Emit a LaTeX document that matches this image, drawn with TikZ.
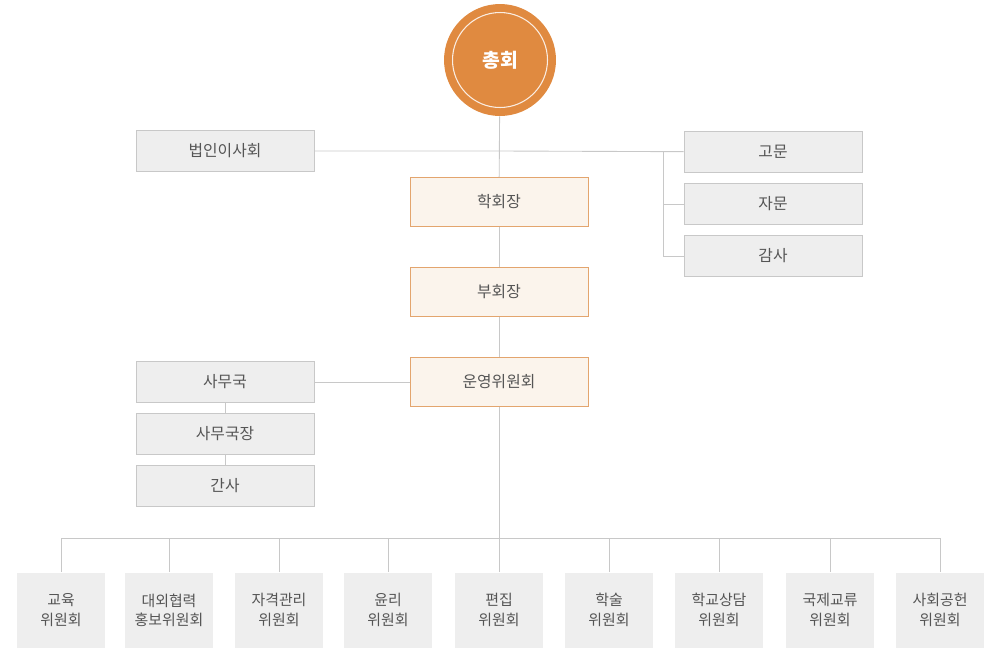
\documentclass[tikz,border=0pt]{standalone}
\usepackage{fontspec}
\newfontfamily\kr{Noto Sans CJK KR}
\definecolor{orgorange}{HTML}{E08A40}
\definecolor{orgline}{HTML}{E3A56E}
\definecolor{orgcream}{HTML}{FBF4EC}
\definecolor{orggray}{HTML}{EEEEEE}
\definecolor{orgedge}{HTML}{C8C8C8}
\definecolor{orgtext}{HTML}{555555}
\begin{document}
\begin{tikzpicture}[x=0.02cm,y=-0.02cm,font=\kr\fontsize{9}{11}\selectfont,text=orgtext]

      \tikzset{graybox/.style={draw=orgedge, fill=orggray, minimum width=3.56cm, minimum height=0.82cm, inner sep=0pt},
               headbox/.style={draw=orgline, fill=orgcream, minimum width=3.56cm, minimum height=0.98cm, inner sep=0pt},
               committee/.style={fill=orggray, minimum width=1.76cm, minimum height=1.5cm, inner sep=0pt, align=center, font=\kr\fontsize{8.5}{11}\selectfont},
               link/.style={draw=orgedge, line width=0.5pt}}
      \useasboundingbox (0,0) rectangle (1000,650);
%% Top
      	\node[circle, fill=orgorange, minimum size=2.24cm] (assembly) at (500,60) {};
      	\node[circle, draw=white!85!orgorange, line width=0.6pt, minimum size=1.9cm, text=white, font=\kr\bfseries\fontsize{11}{13}\selectfont] (assemblyin) at (500,60) {총회};
      	\node[graybox] (board) at (225,151) {법인이사회};
      	\node[graybox] (advisor) at (773,152) {고문};
      	\node[graybox] (consult) at (773,204) {자문};
      	\node[graybox] (audit) at (773,256) {감사};
      	\node[headbox] (president) at (499,202) {학회장};
      	\node[headbox] (vice) at (499,292) {부회장};
      	\node[headbox] (steering) at (499,382) {운영위원회};
%% Secretariat
      	\node[graybox] (office) at (225,382) {사무국};
      	\node[graybox] (chief) at (225,434) {사무국장};
      	\node[graybox] (clerk) at (225,486) {간사};
%% Committees
      	\node[committee] (c1) at (61,610) {교육\\위원회};
      	\node[committee] (c2) at (169,610) {대외협력\\홍보위원회};
      	\node[committee] (c3) at (279,610) {자격관리\\위원회};
      	\node[committee] (c4) at (388,610) {윤리\\위원회};
      	\node[committee] (c5) at (499,610) {편집\\위원회};
      	\node[committee] (c6) at (609,610) {학술\\위원회};
      	\node[committee] (c7) at (719,610) {학교상담\\위원회};
      	\node[committee] (c8) at (830,610) {국제교류\\위원회};
      	\node[committee] (c9) at (940,610) {사회공헌\\위원회};
%Edges
      	\coordinate (hub) at (499,151);
      	\coordinate (side) at (663,151);
      	\coordinate (split) at (499,538);
		\path[link] (assembly) -- (president);
		\path[link] (president) -- (vice);
		\path[link] (vice) -- (steering);
		\path[link] (board) -- (hub) -- (advisor);
		\path[link] (side) |- (consult);
		\path[link] (side) |- (audit);
		\path[link] (steering) -- (office);
		\path[link] (office) -- (chief);
		\path[link] (chief) -- (clerk);
		\path[link] (steering) -- (split);
		\foreach \c in {c1,c2,c3,c4,c5,c6,c7,c8,c9}
			\path[link] (split) -| (\c.north);

	\end{tikzpicture}
\end{document}
